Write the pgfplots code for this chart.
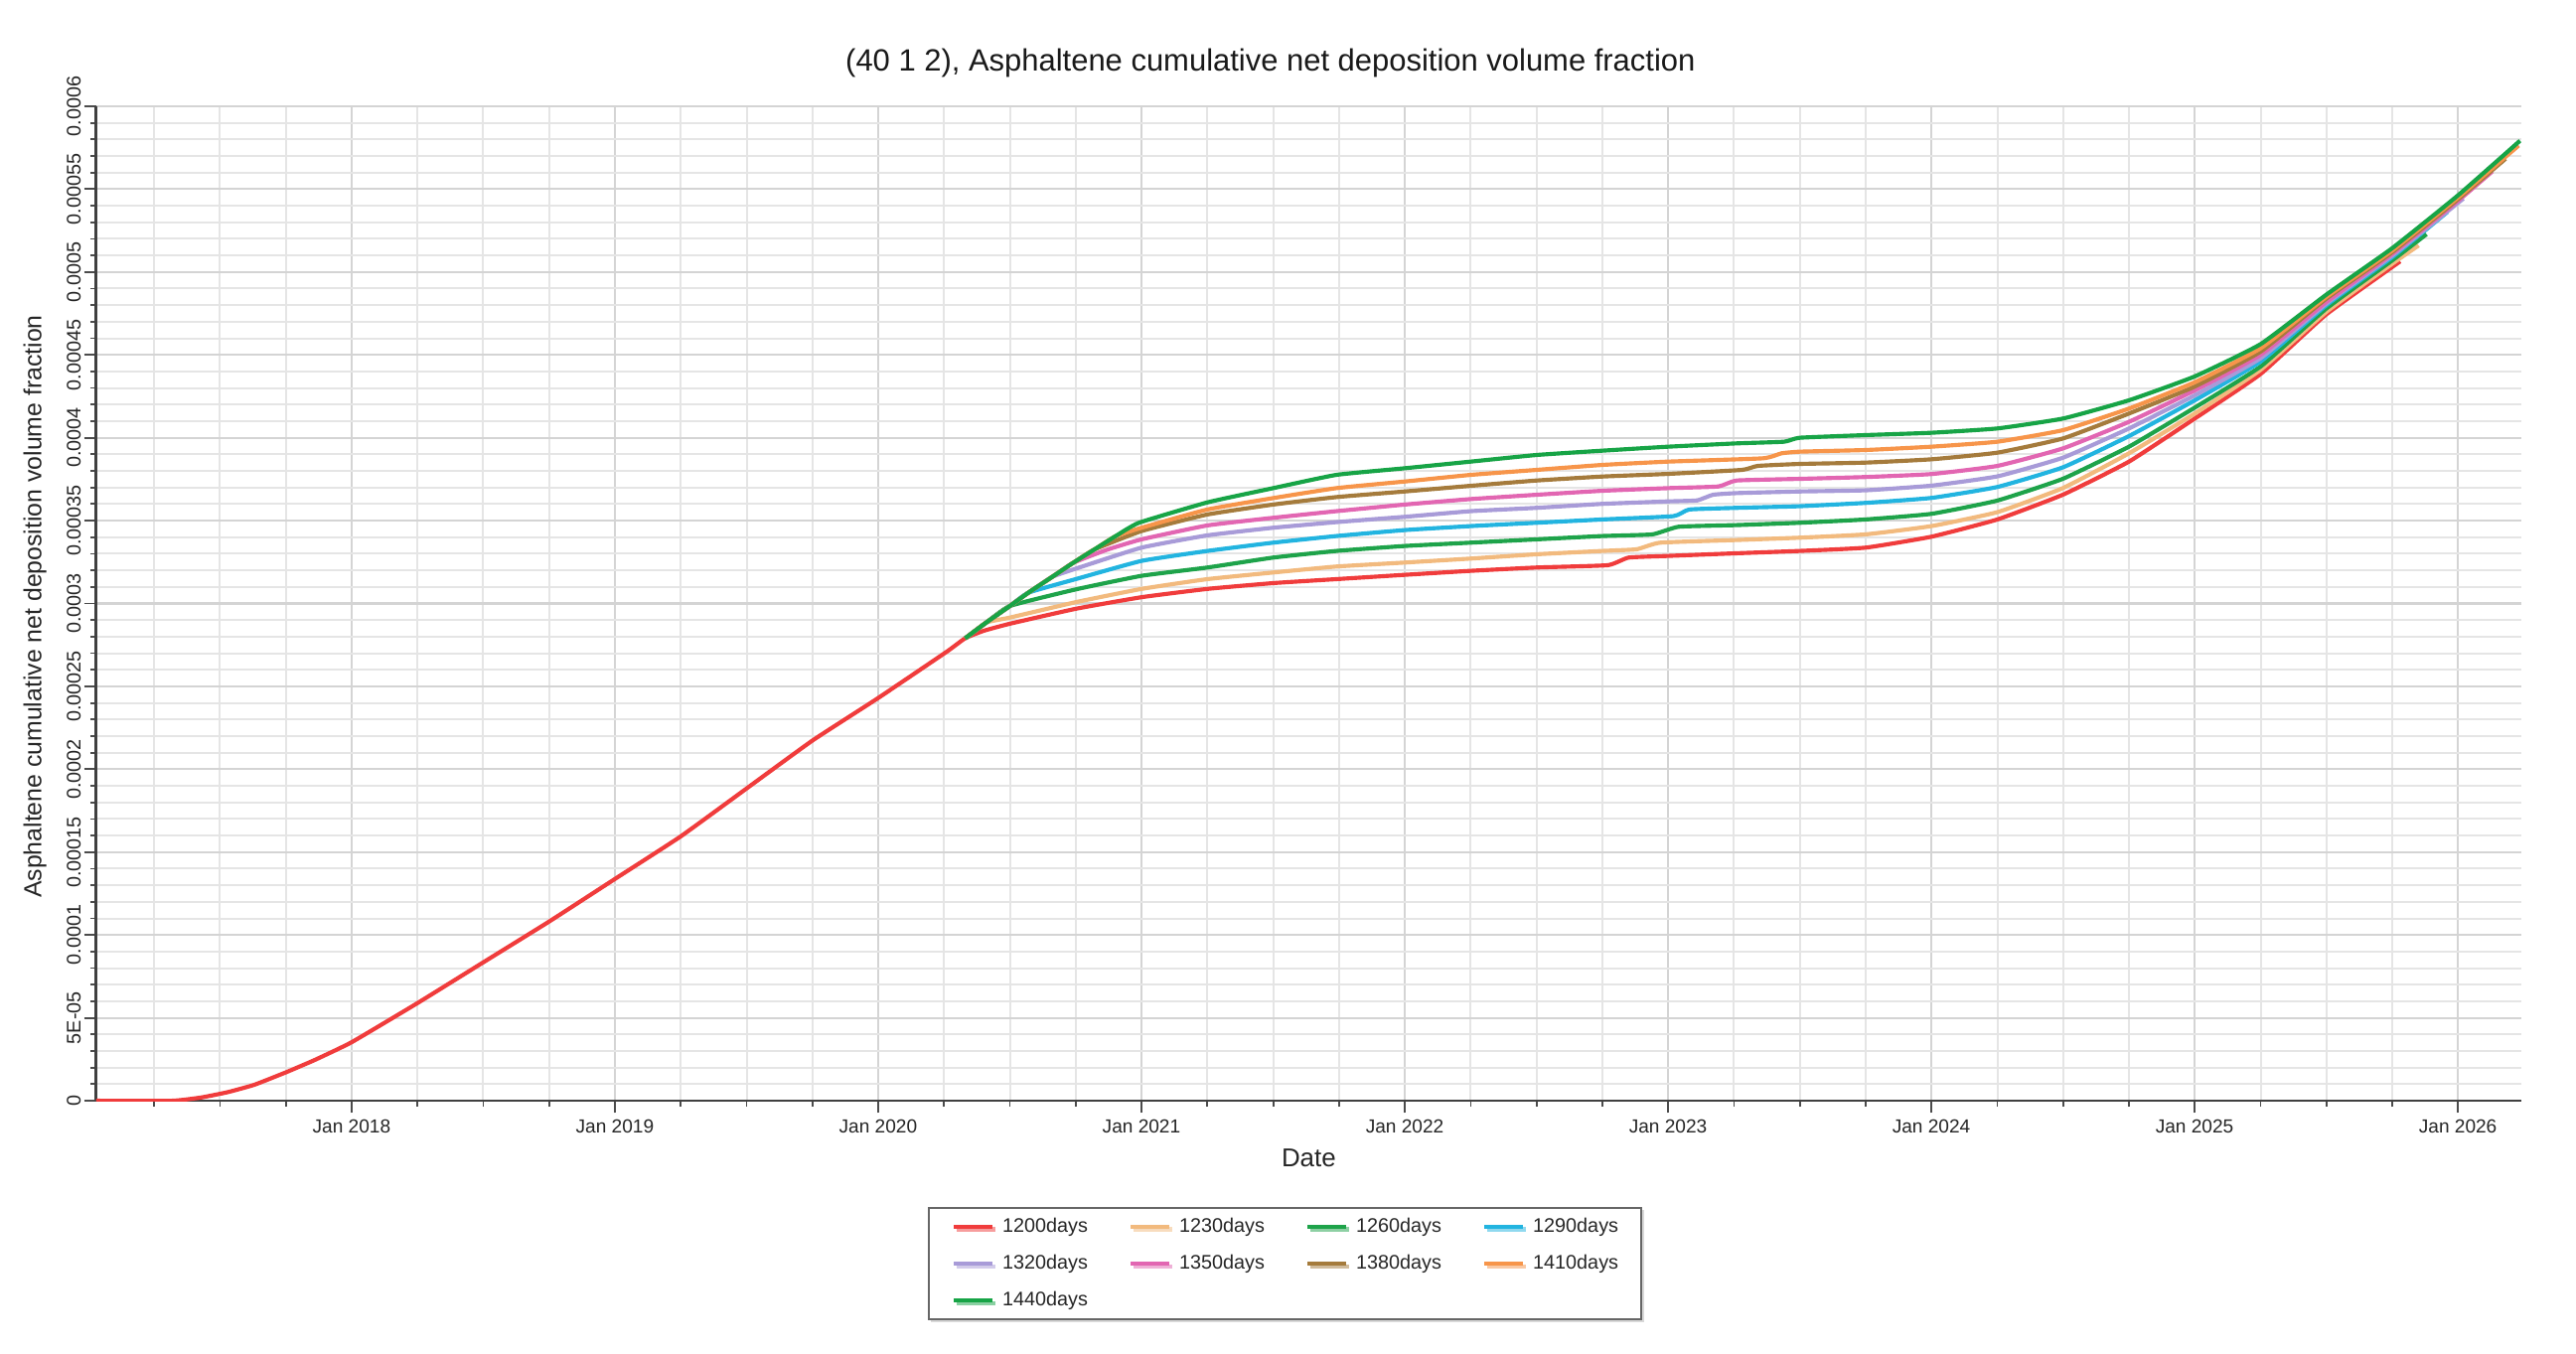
\documentclass[border=0pt]{standalone}
\usepackage{fontspec}
\setmainfont{Liberation Sans}
\usepackage{pgfplots}
\pgfplotsset{compat=1.18}
\usetikzlibrary{shadows}
\definecolor{cRed}{HTML}{F03C3C}
\definecolor{cTan}{HTML}{F2BA7E}
\definecolor{cGreen}{HTML}{1EA34A}
\definecolor{cCyan}{HTML}{22B4E0}
\definecolor{cLav}{HTML}{A89BD8}
\definecolor{cPink}{HTML}{E266B2}
\definecolor{cBrown}{HTML}{A57B3C}
\definecolor{cOrange}{HTML}{F7954A}
\definecolor{cGreenB}{HTML}{17A446}
\begin{document}
\begin{tikzpicture}
\path[use as bounding box, fill=white] (0,0) rectangle (720.3pt,378.6pt);
\begin{axis}[
  at={(26.9pt,70.8pt)}, anchor=south west,
  scale only axis, width=678.1pt, height=278.1pt,
  xmin=2017.03, xmax=2026.24, ymin=0, ymax=0.0006,
  axis x line*=bottom, axis y line*=left,
  axis line style={black!75, line width=0.8pt},
  xtick={2018,2019,...,2026},
  xticklabels={Jan 2018,Jan 2019,Jan 2020,Jan 2021,Jan 2022,Jan 2023,Jan 2024,Jan 2025,Jan 2026},
  minor xtick={2017.25,2017.5,...,2026.25},
  ytick={0,0.00005,0.0001,0.00015,0.0002,0.00025,0.0003,0.00035,0.0004,0.00045,0.0005,0.00055,0.0006},
  yticklabels={0,5E-05,0.0001,0.00015,0.0002,0.00025,0.0003,0.00035,0.0004,0.00045,0.0005,0.00055,0.0006},
  scaled y ticks=false,
  minor y tick num=4,
  tick align=outside,
  tick style={black!70, line width=0.5pt},
  major tick length=3.4pt, minor tick length=1.7pt,
  grid=both,
  major grid style={draw=black!17, line width=0.6pt},
  minor grid style={draw=black!10, line width=0.55pt},
  xticklabel shift=-1.5pt,
  yticklabel shift=-2.6pt,
  xticklabel style={font=\fontsize{5.3}{6}\selectfont, text=black!85},
  yticklabel style={font=\fontsize{5.5}{6}\selectfont, text=black!85, rotate=90, anchor=south},
  title={(40 1 2), Asphaltene cumulative net deposition volume fraction},
  title style={at={(0.4842,1.0431)}, anchor=center, yshift=-6pt, font=\fontsize{8.6}{10}\selectfont, text=black!90},
  xlabel={Date},
  xlabel style={at={(0.500,-0.0578)}, anchor=center, font=\fontsize{7.2}{8}\selectfont, text=black!85},
  ylabel={Asphaltene cumulative net deposition volume fraction},
  ylabel style={at={(-0.0252,0.497)}, anchor=center, rotate=0, font=\fontsize{6.9}{8}\selectfont, text=black!85},
  legend columns=4,
  legend image code/.code={\draw[#1, line width=1.2pt] (0pt,0pt) -- (10.8pt,0pt);},
  legend style={at={(0.3429,-0.1067)}, anchor=north west, draw=black!60, line width=0.6pt,
    fill=white, drop shadow={shadow xshift=0.7pt, shadow yshift=-0.7pt, fill=black!30},
    font=\fontsize{5.5}{6.5}\selectfont, text=black!85,
    inner xsep=6.4pt, inner ysep=2.8pt, row sep=5.3pt,
    nodes={inner sep=0pt, text height=3.9pt, text depth=1.1pt},
    /tikz/every odd column/.append style={column sep=2.2pt},
    /tikz/every even column/.append style={column sep=11.4pt}},
  every axis plot/.append style={line width=1.15pt, smooth, tension=0.25},
]
% 1200days
\addplot[color=cRed] coordinates {
(2017.03,0) (2017.32,0) (2017.43,0.0000020) (2017.53,0.0000052) (2017.63,0.0000096) (2017.75,0.0000171) (2017.86,0.0000246) (2018.00,0.0000353) (2018.25,0.0000589) (2018.50,0.0000835) (2018.75,0.0001081) (2019.00,0.0001338) (2019.25,0.0001595) (2019.50,0.0001884) (2019.75,0.0002173) (2020.00,0.0002430) (2020.26,0.0002709) (2020.33,0.0002790)
(2020.40,0.0002835) (2020.50,0.0002878) (2020.75,0.0002968) (2021.00,0.0003038) (2021.25,0.0003088) (2021.50,0.0003123) (2021.74,0.0003147) (2022.00,0.0003173) (2022.25,0.0003197) (2022.50,0.0003217) (2022.77,0.0003231) (2022.85,0.0003277) (2023.00,0.0003287) (2023.26,0.0003303) (2023.50,0.0003317) (2023.75,0.0003337) (2024.00,0.0003403) (2024.25,0.0003507) (2024.50,0.0003657) (2024.75,0.0003856) (2025.00,0.0004116) (2025.25,0.0004385) (2025.50,0.0004745) (2025.78,0.0005064)
};
\addlegendentry{1200days}
% 1230days
\addplot[color=cTan] coordinates {
(2020.33,0.0002790) (2020.41,0.0002885) (2020.50,0.0002915) (2020.75,0.0003008) (2021.00,0.0003088) (2021.25,0.0003147) (2021.50,0.0003187) (2021.74,0.0003223) (2022.00,0.0003247) (2022.25,0.0003271) (2022.50,0.0003297) (2022.75,0.0003317) (2022.88,0.0003327) (2022.97,0.0003367) (2023.26,0.0003383) (2023.50,0.0003397) (2023.75,0.0003417) (2024.00,0.0003467) (2024.25,0.0003551) (2024.50,0.0003697) (2024.75,0.0003906) (2025.00,0.0004146) (2025.25,0.0004410) (2025.50,0.0004760) (2025.75,0.0005050) (2025.85,0.0005160)
};
\addlegendentry{1230days}
% 1260days
\addplot[color=cGreen] coordinates {
(2020.33,0.0002790) (2020.41,0.0002885) (2020.50,0.0002985) (2020.75,0.0003085) (2021.00,0.0003167) (2021.25,0.0003217) (2021.50,0.0003277) (2021.74,0.0003317) (2022.00,0.0003347) (2022.25,0.0003367) (2022.50,0.0003387) (2022.75,0.0003407) (2022.94,0.0003417) (2023.04,0.0003463) (2023.26,0.0003473) (2023.50,0.0003487) (2023.75,0.0003507) (2024.00,0.0003541) (2024.25,0.0003621) (2024.50,0.0003753) (2024.75,0.0003946) (2025.00,0.0004182) (2025.25,0.0004430) (2025.50,0.0004780) (2025.75,0.0005070) (2025.88,0.0005228)
};
\addlegendentry{1260days}
% 1290days
\addplot[color=cCyan] coordinates {
(2020.33,0.0002790) (2020.41,0.0002885) (2020.50,0.0002985) (2020.57,0.0003065) (2020.75,0.0003147) (2021.00,0.0003257) (2021.25,0.0003317) (2021.50,0.0003367) (2021.74,0.0003407) (2022.00,0.0003443) (2022.25,0.0003467) (2022.50,0.0003487) (2022.75,0.0003507) (2023.02,0.0003527) (2023.08,0.0003567) (2023.26,0.0003577) (2023.50,0.0003587) (2023.75,0.0003607) (2024.00,0.0003637) (2024.25,0.0003703) (2024.50,0.0003822) (2024.75,0.0004010) (2025.00,0.0004226) (2025.25,0.0004460) (2025.50,0.0004800) (2025.75,0.0005090) (2025.96,0.0005363)
};
\addlegendentry{1290days}
% 1320days
\addplot[color=cLav] coordinates {
(2020.33,0.0002790) (2020.41,0.0002885) (2020.50,0.0002985) (2020.57,0.0003065) (2020.66,0.0003160) (2020.75,0.0003210) (2021.00,0.0003337) (2021.25,0.0003411) (2021.50,0.0003457) (2021.74,0.0003491) (2022.00,0.0003523) (2022.25,0.0003557) (2022.50,0.0003577) (2022.75,0.0003601) (2023.00,0.0003616) (2023.11,0.0003622) (2023.17,0.0003656) (2023.26,0.0003666) (2023.50,0.0003676) (2023.75,0.0003683) (2024.00,0.0003711) (2024.25,0.0003767) (2024.50,0.0003880) (2024.75,0.0004056) (2025.00,0.0004256) (2025.25,0.0004480) (2025.50,0.0004810) (2025.75,0.0005100) (2026.02,0.0005443)
};
\addlegendentry{1320days}
% 1350days
\addplot[color=cPink] coordinates {
(2020.33,0.0002790) (2020.41,0.0002885) (2020.50,0.0002985) (2020.57,0.0003065) (2020.66,0.0003160) (2020.74,0.0003245) (2020.87,0.0003325) (2021.00,0.0003387) (2021.25,0.0003471) (2021.50,0.0003517) (2021.74,0.0003557) (2022.00,0.0003597) (2022.25,0.0003630) (2022.50,0.0003656) (2022.75,0.0003680) (2023.00,0.0003696) (2023.19,0.0003706) (2023.26,0.0003742) (2023.50,0.0003752) (2023.75,0.0003763) (2024.00,0.0003781) (2024.25,0.0003830) (2024.50,0.0003936) (2024.75,0.0004096) (2025.00,0.0004286) (2025.25,0.0004500) (2025.50,0.0004820) (2025.75,0.0005110) (2026.00,0.0005430) (2026.13,0.0005607)
};
\addlegendentry{1350days}
% 1380days
\addplot[color=cBrown] coordinates {
(2020.33,0.0002790) (2020.41,0.0002885) (2020.50,0.0002985) (2020.57,0.0003065) (2020.66,0.0003160) (2020.74,0.0003245) (2020.82,0.0003325) (2021.00,0.0003437) (2021.25,0.0003537) (2021.50,0.0003597) (2021.74,0.0003642) (2022.00,0.0003676) (2022.25,0.0003710) (2022.50,0.0003742) (2022.75,0.0003766) (2023.00,0.0003782) (2023.28,0.0003806) (2023.34,0.0003830) (2023.50,0.0003842) (2023.75,0.0003850) (2024.00,0.0003870) (2024.25,0.0003910) (2024.50,0.0003996) (2024.75,0.0004146) (2025.00,0.0004309) (2025.25,0.0004520) (2025.50,0.0004840) (2025.75,0.0005120) (2026.00,0.0005440) (2026.18,0.0005683)
};
\addlegendentry{1380days}
% 1410days
\addplot[color=cOrange] coordinates {
(2020.33,0.0002790) (2020.41,0.0002885) (2020.50,0.0002985) (2020.57,0.0003065) (2020.66,0.0003160) (2020.74,0.0003245) (2020.82,0.0003325) (2020.90,0.0003405) (2021.00,0.0003457) (2021.25,0.0003567) (2021.50,0.0003636) (2021.74,0.0003696) (2022.00,0.0003736) (2022.25,0.0003776) (2022.50,0.0003806) (2022.75,0.0003836) (2023.00,0.0003856) (2023.36,0.0003876) (2023.43,0.0003906) (2023.50,0.0003916) (2023.75,0.0003926) (2024.00,0.0003946) (2024.25,0.0003976) (2024.50,0.0004046) (2024.75,0.0004176) (2025.00,0.0004335) (2025.25,0.0004540) (2025.50,0.0004850) (2025.75,0.0005130) (2026.00,0.0005450) (2026.23,0.0005763)
};
\addlegendentry{1410days}
% 1440days
\addplot[color=cGreenB] coordinates {
(2020.33,0.0002790) (2020.41,0.0002885) (2020.50,0.0002985) (2020.57,0.0003065) (2020.66,0.0003160) (2020.74,0.0003245) (2020.82,0.0003325) (2020.90,0.0003405) (2020.99,0.0003487) (2021.25,0.0003610) (2021.50,0.0003696) (2021.74,0.0003776) (2022.00,0.0003816) (2022.25,0.0003856) (2022.50,0.0003896) (2022.75,0.0003922) (2023.00,0.0003946) (2023.26,0.0003966) (2023.44,0.0003976) (2023.50,0.0004000) (2023.75,0.0004016) (2024.00,0.0004030) (2024.25,0.0004056) (2024.50,0.0004116) (2024.75,0.0004226) (2025.00,0.0004370) (2025.25,0.0004565) (2025.50,0.0004864) (2025.75,0.0005144) (2026.00,0.0005463) (2026.235,0.0005792)
};
\addlegendentry{1440days}
\end{axis}
\end{tikzpicture}
\end{document}
